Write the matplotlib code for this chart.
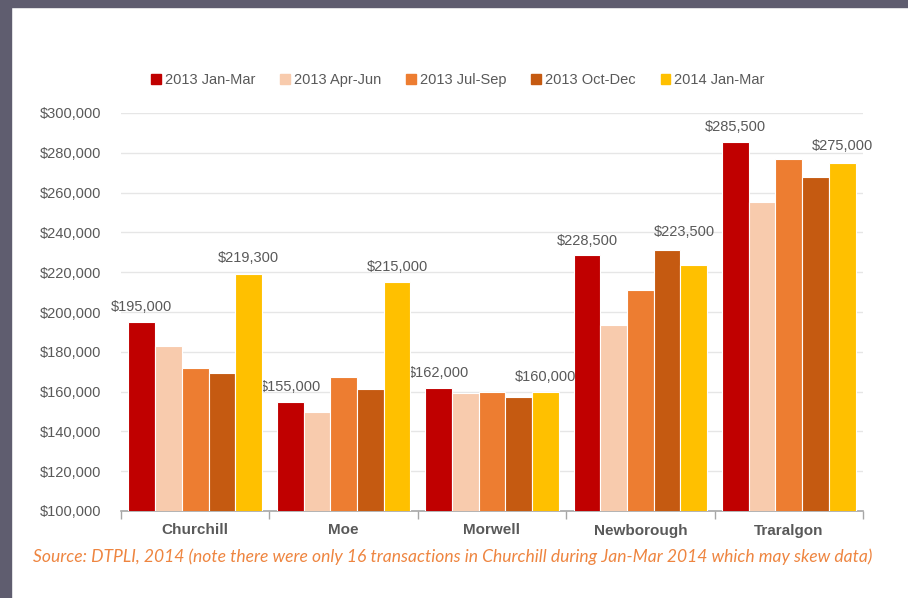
import matplotlib.pyplot as plt
import matplotlib.patches as mpatches
from matplotlib.ticker import FuncFormatter, FixedLocator
import numpy as np

plt.rcParams['font.family'] = ['Liberation Sans', 'DejaVu Sans']

# - DATA -
towns = ["Churchill", "Moe", "Morwell", "Newborough", "Traralgon"]
periods = ["2013 Jan-Mar", "2013 Apr-Jun", "2013 Jul-Sep", "2013 Oct-Dec", "2014 Jan-Mar"]
jan_mar_13 = [195000, 155000, 162000, 228500, 285500]
apr_jun_13 = [183000, 149500, 159500, 193300, 255200]
jul_sep_13 = [172000, 167500, 160000, 211300, 277000]
oct_dec_13 = [169500, 161500, 157500, 231300, 268000]
jan_mar_14 = [219300, 215000, 160000, 223500, 275000]
colours = ["#C00000", "#F8CBAD", "#ED7D31", "#C55A11", "#FFC000"]
# - DATA -

series = [jan_mar_13, apr_jun_13, jul_sep_13, oct_dec_13, jan_mar_14]
# which bars carry a value label: (series index, town index) -> pixel offset
labelled = {
    (0, 0): (0, 15), (4, 0): (0, 16),
    (0, 1): (0, 15), (4, 1): (0, 15),
    (0, 2): (0, 15), (4, 2): (0, 15),
    (0, 3): (0, 14), (4, 3): (-9, 33),
    (0, 4): (0, 15), (4, 4): (0, 17),
}

grey = "#595959"
fig = plt.figure(figsize=(9.08, 5.98), dpi=100)
ax = fig.add_axes([121/908, 1 - 511/598, 742/908, 398/598])

x = np.arange(len(towns))
w = 0.18
for i, vals in enumerate(series):
    pos = x + (i - 2) * w
    ax.bar(pos, vals, width=w, bottom=0, color=colours[i], edgecolor="white",
           linewidth=0.8, zorder=3)
    for j, v in enumerate(vals):
        if (i, j) in labelled:
            ax.annotate("${:,.0f}".format(v), (pos[j], v), xytext=labelled[(i, j)],
                        textcoords="offset pixels", ha="center", va="center",
                        fontsize=10.5, color=grey, annotation_clip=False)

ax.set_ylim(100000, 300000)
ax.set_xlim(-0.5, len(towns) - 0.5)
ax.set_yticks(np.arange(100000, 300001, 20000))
ax.yaxis.set_major_formatter(FuncFormatter(lambda v, p: "${:,.0f}".format(v)))
ax.grid(axis="y", color="#E6E6E6", linewidth=1, zorder=0)

ax.set_xticks(x)
ax.set_xticklabels(towns, fontsize=11, fontweight="bold", color=grey)
ax.xaxis.set_minor_locator(FixedLocator(np.arange(-0.5, len(towns), 1)))
ax.tick_params(axis="x", which="major", length=0, pad=9)
ax.tick_params(axis="x", which="minor", length=6, color="#A6A6A6", width=1)
ax.tick_params(axis="y", length=0, pad=14, labelsize=10.5, labelcolor=grey)

for s in ["top", "right", "left"]:
    ax.spines[s].set_visible(False)
ax.spines["bottom"].set_color("#A6A6A6")
ax.spines["bottom"].set_linewidth(1.2)

handles = [mpatches.Patch(color=c, label=l) for c, l in zip(colours, periods)]
fig.legend(handles=handles, loc="center", bbox_to_anchor=(458/908, 1 - 80/598),
           ncol=5, frameon=False, handlelength=0.65, handleheight=0.65,
           handletextpad=0.3, columnspacing=1.7, fontsize=10.5,
           labelcolor=grey)

fig.text(33/908, 1 - 557/598,
         "Source: DTPLI, 2014 (note there were only 16 transactions in Churchill "
         "during Jan-Mar 2014 which may skew data)",
         fontsize=12.6, style="italic", color="#EE8540", family=["Lato", "DejaVu Sans"],
         ha="left", va="center")

# dark frame along the top and left edges
frame = "#5F5D6F"
fig.patches.append(mpatches.Rectangle((0, 1 - 7/598), 1, 7/598, transform=fig.transFigure,
                                      color=frame, zorder=10))
fig.patches.append(mpatches.Rectangle((0, 0), 11/908, 1, transform=fig.transFigure,
                                      color=frame, zorder=10))

fig.savefig("out.png", dpi=100)
